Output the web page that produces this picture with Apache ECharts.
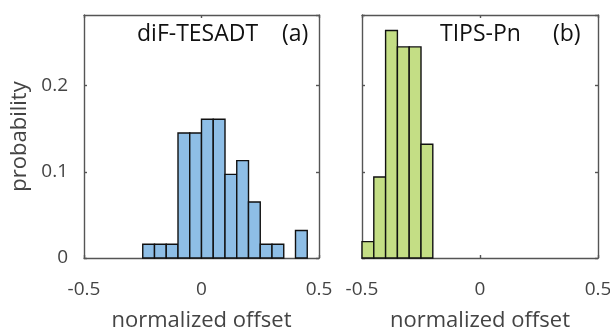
<!DOCTYPE html>
<html>
<head>
<meta charset="utf-8">
<script src="https://cdn.jsdelivr.net/npm/echarts@6/dist/echarts.min.js"></script>
<style>
  html, body { margin: 0; padding: 0; background: #fff; }
  #chart { width: 610px; height: 331px; }
</style>
</head>
<body>
<div id="chart"></div>
<script>
// Histogram of normalized offsets, two materials
const binWidth = 0.05;

// diF-TESADT: left edge of each bin and its probability
const binLeftA = [-0.25, -0.2, -0.15, -0.1, -0.05, 0, 0.05, 0.1, 0.15, 0.2, 0.25, 0.3, 0.35, 0.4];
const probA    = [0.016, 0.016, 0.016, 0.145, 0.145, 0.161, 0.161, 0.097, 0.113, 0.065, 0.016, 0.016, 0, 0.032];

// TIPS-Pn
const binLeftB = [-0.5, -0.45, -0.4, -0.35, -0.3, -0.25];
const probB    = [0.019, 0.094, 0.264, 0.245, 0.245, 0.132];

const xTicks = [-0.5, 0, 0.5];
const yTicks = [0, 0.1, 0.2];
const nameA = 'diF-TESADT';
const tagA = '(a)';
const nameB = 'TIPS-Pn';
const tagB = '(b)';
const xName = 'normalized offset';
const yName = 'probability';

const FONT = 'Open Sans';
const TXT = '#444';
const AX = '#555';
const yMax = 0.282;

function toData(lefts, probs) {
  return lefts.map((l, i) => [l, l + binWidth, probs[i]]);
}

function histRender(color) {
  return function (params, api) {
    const x0 = api.value(0), x1 = api.value(1), v = api.value(2);
    if (!(v > 0)) return null;
    const p0 = api.coord([x0, v]);
    const p1 = api.coord([x1, 0]);
    return {
      type: 'rect',
      shape: { x: p0[0], y: p0[1], width: p1[0] - p0[0], height: p1[1] - p0[1] },
      style: { fill: color, stroke: '#111', lineWidth: 1.4 }
    };
  };
}

const grids = [
  { left: 84, top: 15, width: 235, height: 243, outerBoundsMode: 'none', containLabel: false },
  { left: 362, top: 15, width: 236, height: 243, outerBoundsMode: 'none', containLabel: false }
];

function xAxes(gi) {
  const base = {
    type: 'value', gridIndex: gi, min: -0.5, max: 0.5, interval: 0.5,
    axisLine: { show: true, onZero: false, lineStyle: { color: AX, width: 1.4 } },
    axisTick: { show: true, inside: true, length: 3, lineStyle: { color: AX, width: 1.4 } },
    splitLine: { show: false }
  };
  return [
    Object.assign({}, base, {
      position: 'bottom',
      name: xName, nameLocation: 'middle', nameGap: 52,
      nameTextStyle: { fontFamily: FONT, fontSize: 22, color: TXT },
      axisLabel: { show: true, margin: 22, fontFamily: FONT, fontSize: 19, color: TXT,
        formatter: v => (xTicks.indexOf(v) >= 0 ? String(v) : '') }
    }),
    Object.assign({}, base, { position: 'top', axisLabel: { show: false } })
  ];
}

function yAxes(gi, withLabels) {
  const base = {
    type: 'value', gridIndex: gi, min: 0, max: yMax, interval: 0.1,
    axisLine: { show: true, onZero: false, lineStyle: { color: AX, width: 1.4 } },
    axisTick: { show: true, inside: true, length: 3, lineStyle: { color: AX, width: 1.4 } },
    splitLine: { show: false }
  };
  const left = Object.assign({}, base, {
    position: 'left',
    axisLabel: { show: withLabels, margin: 16, fontFamily: FONT, fontSize: 19, color: TXT,
      showMaxLabel: false,
      formatter: v => (yTicks.some(t => Math.abs(t - v) < 1e-9) ? String(+v.toFixed(1)) : '') }
  });
  if (withLabels) {
    left.name = yName;
    left.nameLocation = 'middle';
    left.nameGap = 53;
    left.nameTextStyle = { fontFamily: FONT, fontSize: 22, color: TXT };
  }
  return [left, Object.assign({}, base, { position: 'right', axisLabel: { show: false } })];
}

const xs = xAxes(0).concat(xAxes(1));
const ys = yAxes(0, true).concat(yAxes(1, false));

const titleStyle = { fontFamily: FONT, fontSize: 23, fontWeight: 'normal', color: '#111' };

const option = {
  animation: false,
  backgroundColor: '#fff',
  grid: grids,
  xAxis: xs,
  yAxis: ys,
  title: [
    { text: nameA, left: 137, top: 23, padding: 0, textStyle: titleStyle },
    { text: tagA, left: 282, top: 23, padding: 0, textStyle: titleStyle },
    { text: nameB, left: 440, top: 23, padding: 0, textStyle: titleStyle },
    { text: tagB, left: 553, top: 23, padding: 0, textStyle: titleStyle }
  ],
  series: [
    { type: 'custom', xAxisIndex: 0, yAxisIndex: 0, renderItem: histRender('#8EBEE6'),
      encode: { x: [0, 1], y: 2 }, data: toData(binLeftA, probA) },
    { type: 'custom', xAxisIndex: 2, yAxisIndex: 2, renderItem: histRender('#C4DE85'),
      encode: { x: [0, 1], y: 2 }, data: toData(binLeftB, probB) }
  ]
};

echarts.init(document.getElementById('chart'), null, { renderer: 'canvas' }).setOption(option);
</script>
</body>
</html>
